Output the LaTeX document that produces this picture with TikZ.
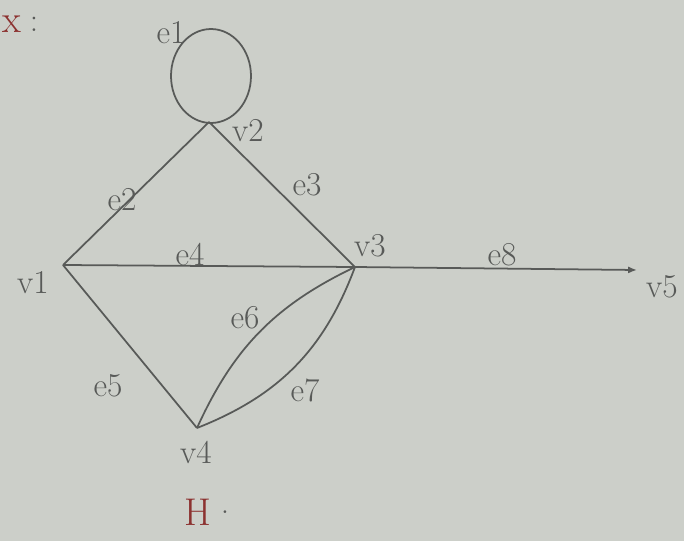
\documentclass[tikz,border=0pt]{standalone}
\usetikzlibrary{arrows.meta}

\definecolor{paper}{RGB}{204,207,201}
\definecolor{pencil}{RGB}{88,90,88}
\definecolor{redpen}{RGB}{140,50,48}

\tikzset{
  edge/.style={line width=1pt,pencil},
  lbl/.style={pencil,font=\fontsize{19}{22}\selectfont},
  redlbl/.style={redpen,font=\fontsize{22}{26}\selectfont}
}

\begin{document}
\begin{tikzpicture}[x=.02cm,y=-.02cm]
\useasboundingbox (0,0) rectangle (684,541);
\fill [paper] (0,0) rectangle (684,541);

% vertices
\coordinate (v1) at (63,265);
\coordinate (v2) at (209,122);
\coordinate (v3) at (355,267);
\coordinate (v4) at (197,428);
\coordinate (v5) at (637,270);
\coordinate (loopc) at (211,76);

% edges
\draw [edge] (loopc) ellipse [x radius=.8cm, y radius=.94cm];
\draw [edge] (v1) -- (v2);
\draw [edge] (v2) -- (v3);
\draw [edge] (v1) -- (v3);
\draw [edge] (v1) -- (v4);
\draw [edge] (v4) to[bend left=20] (v3);
\draw [edge] (v4) to[bend right=24] (v3);
\draw [edge,-{Latex[length=5pt,width=4pt]}] (v3) -- (v5);

% labels
\node [redlbl] (xname) at (12,24) {x};
\node [lbl] (colon) at (34,24) {:};
\node [lbl] (le1) at (171,33) {e1};
\node [lbl] (lv2) at (248,131) {v2};
\node [lbl] (le2) at (122,200) {e2};
\node [lbl] (le3) at (307,185) {e3};
\node [lbl] (lv1) at (33,283) {v1};
\node [lbl] (le4) at (190,254) {e4};
\node [lbl] (lv3) at (370,246) {v3};
\node [lbl] (le8) at (502,255) {e8};
\node [lbl] (lv5) at (662,287) {v5};
\node [lbl] (le6) at (245,318) {e6};
\node [lbl] (le7) at (305,390) {e7};
\node [lbl] (le5) at (108,386) {e5};
\node [lbl] (lv4) at (196,452) {v4};
\node [redlbl] (hname) at (198,512) {H};
\node [lbl] (hdot) at (225,512) {.};
\end{tikzpicture}
\end{document}
